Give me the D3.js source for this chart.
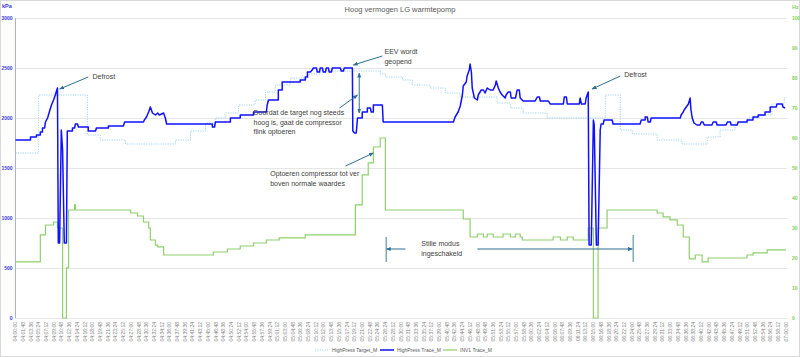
<!DOCTYPE html>
<html><head><meta charset="utf-8">
<script src="https://cdn.jsdelivr.net/npm/d3@7"></script>
<style>body{margin:0;background:#fff}svg{display:block}text{font-family:"Liberation Sans",Arial,sans-serif}</style>
</head><body><svg id="c" width="800" height="357"></svg>
<script>
// ---- data (time in minutes after 04:00:00) ----
const title = "Hoog vermogen LG warmtepomp";
const kpaTicks = [0,500,1000,1500,2000,2500,3000];
const hzTicks = [0,10,20,30,40,50,60,70,80,90,100];
const labelStepSec = 108, labelCount = 101, startSec = 4*3600;

// HighPress Target_M (step after), kPa
const target_t = [0,5.4,16.8,19.8,25.7,37.4,40.9,44.4,46.7,49.0,52.1,56.0,58.4,60.7,64.2,68.4,71.2,85.2,86.4,90.4,92.7,96.9,100.4,103.9,112.5,115.6,118.6,124.2,137.8,141.3,144.1,149.9,155.7,161.6,164.6,168.1,171.1,173.9,176.7,179.6,180];
const target_v = [1650,2230,1830,1780,1740,1780,1870,1950,2000,2050,2130,2180,2260,2330,2400,2440,2470,2440,2410,2380,2330,2300,2250,2210,2150,2100,2050,2000,2230,1880,1840,1780,1740,1810,1880,1950,2000,2030,2140,2200,2200];

// HighPress Trace_M, kPa
const trace_t = [0,3.5,3.5,4.9,4.9,5.8,5.8,6.3,6.3,6.8,7.0,7.5,7.9,8.4,8.9,9.3,9.8,10.0,10.3,10.7,11.0,11.4,11.9,12.1,13.3,13.3,13.8,14.0,14.5,14.7,17.0,17.0,18.7,18.9,21.7,21.7,25.2,25.5,29.9,30.1,30.6,31.1,31.5,32.0,32.7,33.2,33.6,34.6,35.0,35.3,46.0,46.0,46.5,46.7,50.2,50.2,52.5,52.5,55.6,55.6,58.6,58.8,59.1,61.4,61.4,62.3,62.3,66.5,66.5,67.7,67.7,68.2,68.2,68.9,69.3,69.6,70.3,70.5,71.0,71.2,71.7,71.9,72.4,72.6,73.1,73.3,73.8,74.0,75.9,76.1,76.6,76.8,78.7,78.8,79.2,79.6,79.9,81.0,81.0,82.2,82.2,82.9,83.1,83.6,83.6,85.7,85.9,102.3,102.7,103.4,103.9,104.4,104.6,105.3,105.5,106.0,106.2,106.5,106.7,107.2,107.9,108.1,108.8,109.3,109.7,110.2,110.9,111.6,112.1,112.3,112.8,113.2,113.7,114.4,114.6,115.1,115.6,115.8,116.8,117.2,117.7,117.9,118.6,121.4,121.9,122.4,122.6,124.5,124.9,128.0,128.2,128.7,128.9,131.7,131.9,132.2,133.1,133.3,133.8,134.0,134.5,135.0,135.2,135.7,136.1,136.6,136.8,137.3,137.5,139.4,139.6,145.9,146.2,147.1,147.1,147.6,147.8,148.3,148.5,155.3,155.5,156.0,156.2,156.7,157.2,157.6,157.8,158.1,158.5,159.2,159.9,160.2,160.6,160.9,162.7,163.0,163.7,163.9,166.0,166.3,167.0,167.2,168.6,168.8,170.9,170.9,172.3,172.3,173.5,173.5,175.1,175.1,176.3,176.3,177.7,177.9,179.1,179.3,179.8];
const trace_v = [1780,1780,1810,1810,1830,1830,1860,1860,1900,1900,1960,2000,2060,2130,2180,2230,2300,750,750,1880,1680,750,750,1870,1870,1900,1900,1940,1940,1910,1910,1870,1870,1900,1900,1920,1920,1960,1960,1980,2010,2060,2110,2050,2030,2050,2030,2050,2000,1940,1940,1910,1910,1960,1960,2000,2000,2030,2030,2060,2060,2130,2180,2180,2280,2280,2360,2360,2380,2380,2410,2410,2460,2460,2480,2500,2500,2460,2460,2500,2500,2460,2460,2500,2500,2460,2460,2500,2500,2470,2470,2500,2500,1870,1850,1850,2000,2000,2060,2060,2100,2100,2060,2060,2130,2130,1960,1960,2010,2060,2120,2230,2320,2360,2420,2480,2540,2460,2300,2200,2180,2230,2280,2280,2250,2300,2280,2280,2330,2370,2300,2260,2230,2200,2230,2260,2260,2200,2200,2280,2280,2200,2170,2170,2210,2210,2170,2170,2140,2140,2210,2210,2140,2140,2200,2140,2140,2200,2260,730,730,1980,1930,730,730,1880,1940,1940,1980,1980,1940,1940,1980,1980,2010,2010,1960,1960,2000,2000,2030,2060,2080,2110,2140,2200,2080,2000,1950,1930,1930,1960,1960,1930,1930,1960,1960,1930,1930,1960,1960,1930,1930,1960,1960,1980,1980,2010,2010,2030,2030,2060,2060,2110,2110,2140,2140,2110,2100];

// INV1 Trace_M (step after), Hz
const inv_t = [0,5.8,7.0,8.9,9.8,11.0,11.9,12.4,13.8,14.0,26.9,28.5,29.9,31.1,31.5,32.7,33.2,34.6,46.2,49.5,52.5,55.6,58.6,61.6,67.7,79.4,81.0,82.4,83.6,85.2,86.4,104.6,106.2,107.9,109.3,110.2,111.6,113.9,115.6,116.8,117.9,118.4,125.6,127.3,128.9,130.3,133.8,135.0,136.1,138.2,149.9,151.3,152.9,154.6,156.0,157.4,158.8,160.4,161.8,170.9,172.3,175.6,180];
const inv_v = [18.7,27.7,31,32,30,0,16.7,36,37.7,36,35,34,32,30,26,24.3,23.7,21,22,23,24,25,26,26.7,27.7,37.7,47.7,51.7,57,60,36,33,27,28,27,28,27,28,27,28,27,26,27,26,27,26,30,0,30,36,35,33.7,32.7,31,27,19.7,21,18.7,20,21,21.7,22.7,22.7];

// annotations (time min, kPa)
const noteTexts = [
  {lines:["Defrost"], t:18.0, v:2410},
  {lines:["Defrost"], t:142.2, v:2430},
  {lines:["EEV wordt","geopend"], t:86.2, v:2660},
  {lines:["Doordat de target nog steeds","hoog is, gaat de compressor","flink optoeren"], t:55.6, v:2050},
  {lines:["Optoeren compressor tot ver","boven normale waardes"], t:59.5, v:1440},
  {lines:["Stille modus","ingeschakeld"], t:94.8, v:740}
];
const noteArrows = [
  {t1:17.0,v1:2410,t2:10.3,v2:2290,both:false},
  {t1:141.3,v1:2420,t2:134.7,v2:2290,both:false},
  {t1:85.7,v1:2620,t2:78.9,v2:2530,both:false},
  {t1:80.3,v1:2050,t2:80.3,v2:2450,both:true},
  {t1:75.7,v1:2100,t2:79.9,v2:2230,both:false},
  {t1:77.1,v1:1520,t2:83.6,v2:1650,both:false},
  {t1:91.1,v1:690,t2:86.6,v2:690,both:false},
  {t1:107.9,v1:690,t2:144.1,v2:690,both:false}
];
const noteBars = [{t:86.6,v1:810,v2:560},{t:144.3,v1:830,v2:560}];

// ---- drawing ----
const svg = d3.select("#c");
const x = d3.scaleLinear().domain([0,180]).range([15.5,786]);
const yL = d3.scaleLinear().domain([0,3000]).range([318,18]);
const yR = d3.scaleLinear().domain([0,100]).range([318,18]);

svg.append("rect").attr("x",0.5).attr("y",0.5).attr("width",799).attr("height",356)
  .attr("fill","#fff").attr("stroke","#d9d9d9");

// gridlines
svg.append("g").selectAll("line").data(kpaTicks).join("line")
  .attr("x1",15.5).attr("x2",787).attr("y1",d=>Math.round(yL(d))+0.5).attr("y2",d=>Math.round(yL(d))+0.5)
  .attr("stroke","#e6e6e6").attr("stroke-width",1);

// left axis
const gl = svg.append("g").attr("transform","translate(15.5,0)")
  .call(d3.axisLeft(yL).tickValues(kpaTicks).tickSize(0).tickPadding(3).tickFormat(d3.format("d")));
gl.select(".domain").remove();
gl.selectAll("text").attr("fill","#3b3bdc").attr("font-size","5px").attr("font-weight","bold");
svg.append("line").attr("x1",15.5).attr("x2",15.5).attr("y1",yL(3000)).attr("y2",yL(0))
  .attr("stroke","#a9a9ff").attr("stroke-width",1);
svg.append("text").attr("x",2).attr("y",8).text("kPa").attr("fill","#3b3bdc").attr("font-size","5.5px").attr("font-weight","bold");

// right axis
const gr = svg.append("g").attr("transform","translate(786,0)")
  .call(d3.axisRight(yR).tickValues(hzTicks).tickSize(0).tickPadding(6).tickFormat(d3.format("d")));
gr.select(".domain").remove();
gr.selectAll("text").attr("fill","#7fcf5a").attr("font-size","5px").attr("font-weight","bold");
svg.append("text").attr("x",792).attr("y",9).text("Hz").attr("fill","#7fcf5a").attr("font-size","5.5px").attr("font-weight","bold");

// x labels
const timeLabels = d3.range(labelCount).map(i=>{
  const s = startSec + i*labelStepSec;
  return [Math.floor(s/3600),Math.floor(s%3600/60),s%60].map(n=>String(n).padStart(2,"0")).join(":");
});
svg.append("g").selectAll("text").data(timeLabels).join("text")
  .attr("transform",(d,i)=>`translate(${x(i*labelStepSec/60)},322) rotate(-90)`)
  .attr("text-anchor","end").attr("dy","0.35em")
  .attr("font-size","5px").attr("fill","#7f7f7f").text(d=>d);

// title
svg.append("text").attr("x",400).attr("y",12).attr("text-anchor","middle")
  .attr("font-size","7.5px").attr("fill","#595959").text(title);

// series
const targetData = target_t.map((t,i)=>[t,target_v[i]]);
const traceData = trace_t.map((t,i)=>[t,trace_v[i]]);
const invData = inv_t.map((t,i)=>[t,inv_v[i]]);

svg.append("path").datum(targetData)
  .attr("d",d3.line().x(d=>x(d[0])).y(d=>yL(d[1])).curve(d3.curveStepAfter))
  .attr("fill","none").attr("stroke","#9fd3f2").attr("stroke-width",1).attr("stroke-dasharray","1.2,1.2");
svg.append("path").datum(invData)
  .attr("d",d3.line().x(d=>x(d[0])).y(d=>yR(d[1])).curve(d3.curveStepAfter))
  .attr("fill","none").attr("stroke","#8fcf6e").attr("stroke-width",1.2);
svg.append("path").datum(traceData)
  .attr("d",d3.line().x(d=>x(d[0])).y(d=>yL(d[1])))
  .attr("fill","none").attr("stroke","#1010ff").attr("stroke-width",1.5).attr("stroke-linejoin","round");

// annotations
const ac = "#2c6f93";
const defs = svg.append("defs");
defs.append("marker").attr("id","ah").attr("viewBox","0 0 10 10").attr("refX",9).attr("refY",5)
  .attr("markerWidth",5).attr("markerHeight",5).attr("markerUnits","userSpaceOnUse").attr("orient","auto-start-reverse")
  .append("path").attr("d","M0,1 L10,5 L0,9 Z").attr("fill",ac);
svg.append("g").selectAll("line").data(noteArrows).join("line")
  .attr("x1",d=>x(d.t1)).attr("y1",d=>yL(d.v1)).attr("x2",d=>x(d.t2)).attr("y2",d=>yL(d.v2))
  .attr("stroke",ac).attr("stroke-width",1)
  .attr("marker-end","url(#ah)").attr("marker-start",d=>d.both?"url(#ah)":null);
svg.append("g").selectAll("line").data(noteBars).join("line")
  .attr("x1",d=>x(d.t)).attr("x2",d=>x(d.t)).attr("y1",d=>yL(d.v1)).attr("y2",d=>yL(d.v2))
  .attr("stroke","#5f93b0").attr("stroke-width",1.2);
const ng = svg.append("g");
noteTexts.forEach(n=>{
  n.lines.forEach((l,i)=>{
    ng.append("text").attr("x",x(n.t)).attr("y",yL(n.v)+i*9.5).attr("dy","0.35em")
      .attr("font-size","7px").attr("fill","#404040").text(l);
  });
});

// legend
const lg = svg.append("g").attr("font-size","5px").attr("fill","#595959");
const legendItems = [
  {name:"HighPress Target_M", x:315, color:"#9fd3f2", dash:"1.2,1.2", w:1},
  {name:"HighPress Trace_M", x:380, color:"#1010ff", dash:null, w:1.5},
  {name:"INV1 Trace_M", x:443, color:"#8fcf6e", dash:null, w:1.2}
];
legendItems.forEach(it=>{
  lg.append("line").attr("x1",it.x).attr("x2",it.x+14).attr("y1",350).attr("y2",350)
    .attr("stroke",it.color).attr("stroke-width",it.w).attr("stroke-dasharray",it.dash);
  lg.append("text").attr("x",it.x+17).attr("y",350).attr("dy","0.35em").text(it.name);
});
</script></body></html>
